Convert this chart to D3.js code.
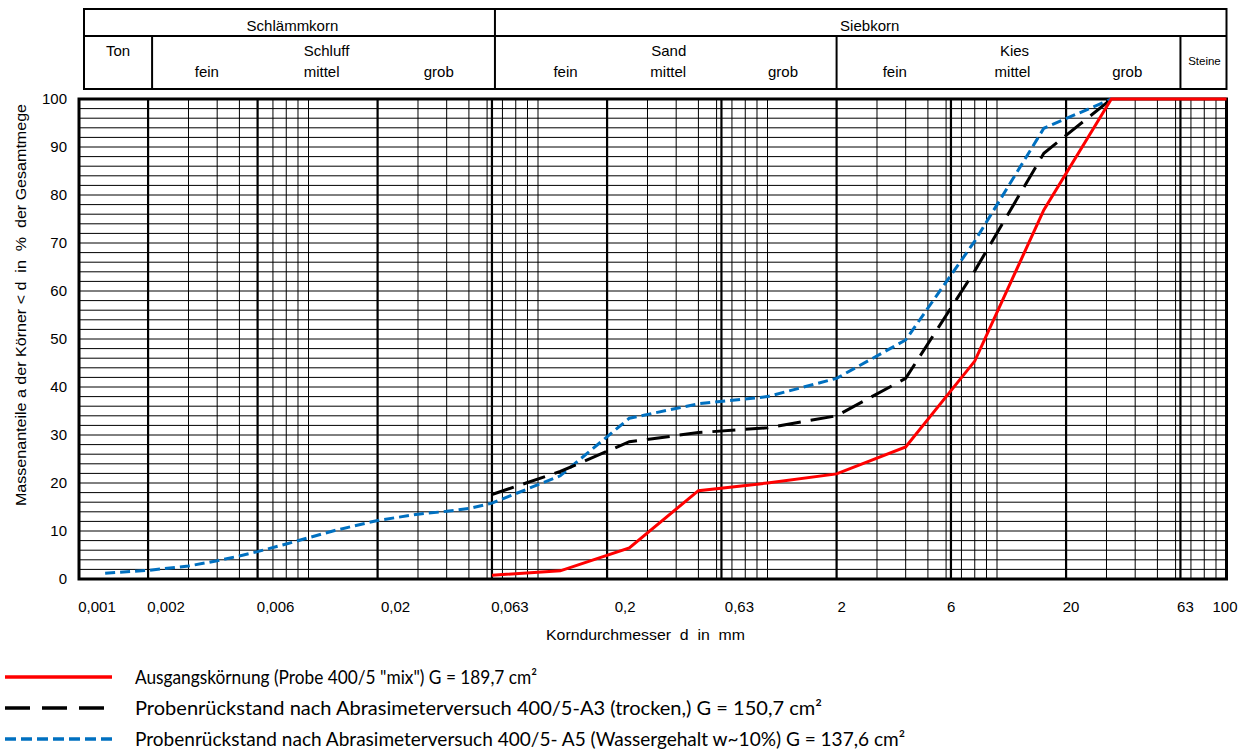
<!DOCTYPE html>
<html>
<head>
<meta charset="UTF-8">
<title>Körnungslinie</title>
<script src="https://cdn.jsdelivr.net/npm/d3@7"></script>
<style>
  body { margin: 0; background: #fff; }
  svg text { font-family: "Liberation Sans", Arial, sans-serif; fill: #000; }
  .legend text { font-family: Lato, "Open Sans", sans-serif; }
</style>
</head>
<body>
<script>
// Daten (Korndurchmesser in mm, Siebdurchgang in %)
var probeMixD   = [0.063, 0.125, 0.25, 0.5, 1, 2, 4, 8, 16, 31.5, 63, 100];
var probeMixP   = [0.8, 1.7, 6.5, 18.4, 20.0, 21.9, 27.5, 45.4, 76.9, 100, 100, 100];

var trockenD    = [0.063, 0.125, 0.25, 0.5, 1, 2, 4, 8, 16, 31.5];
var trockenP    = [17.6, 22.4, 28.6, 30.5, 31.5, 34.0, 41.8, 64.2, 88.7, 100];

var nassD       = [0.0013, 0.002, 0.003, 0.004, 0.005, 0.006, 0.008, 0.01, 0.013, 0.02, 0.03, 0.04, 0.05, 0.063,
                   0.125, 0.25, 0.5, 1, 2, 4, 8, 16, 31.5];
var nassP       = [1.2, 1.8, 2.7, 3.8, 4.8, 5.7, 7.3, 8.6, 10.1, 12.2, 13.5, 14.1, 14.7, 15.8,
                   21.5, 33.5, 36.5, 38.0, 41.8, 49.8, 70.4, 93.9, 100];

var xTicks      = [0.001, 0.002, 0.006, 0.02, 0.063, 0.2, 0.63, 2, 6, 20, 63, 100];
var yTicks      = [0, 10, 20, 30, 40, 50, 60, 70, 80, 90, 100];
var grenzen     = [0.002, 0.006, 0.02, 0.063, 0.2, 0.63, 2, 6.3, 20, 63];

var legendTexte = [
  'Ausgangskörnung (Probe 400/5 "mix") G = 189,7 cm²',
  'Probenrückstand nach Abrasimeterversuch 400/5-A3 (trocken,) G = 150,7 cm²',
  'Probenrückstand nach Abrasimeterversuch 400/5- A5 (Wassergehalt w~10%) G = 137,6 cm²'
];

var W = 1254, H = 751;
var svg = d3.select('body').append('svg').attr('width', W).attr('height', H);

var x = d3.scaleLog().domain([0.001, 100]).range([79, 1226.5]);
var y = d3.scaleLinear().domain([0, 100]).range([579, 99]);

// Raster
var grid = svg.append('g');
var minor = [];
for (var e = -3; e <= 1; e++) {
  for (var m = 1; m <= 9; m++) {
    var v = m * Math.pow(10, e);
    if (v > 0.0011 && v < 99) minor.push(v);
  }
}
grid.selectAll('line.vmin').data(minor).enter().append('line')
  .attr('x1', function(d){ return x(d); }).attr('x2', function(d){ return x(d); })
  .attr('y1', y(0)).attr('y2', y(100))
  .attr('stroke', '#000').attr('stroke-width', 1);

var hLines = d3.range(2, 100, 2);
grid.selectAll('line.h').data(hLines).enter().append('line')
  .attr('x1', x(0.001)).attr('x2', x(100))
  .attr('y1', function(d){ return y(d); }).attr('y2', function(d){ return y(d); })
  .attr('stroke', '#000').attr('stroke-width', 1);

grid.selectAll('line.vmaj').data(grenzen).enter().append('line')
  .attr('x1', function(d){ return x(d); }).attr('x2', function(d){ return x(d); })
  .attr('y1', y(0)).attr('y2', y(100))
  .attr('stroke', '#000').attr('stroke-width', 2.2);

svg.append('rect')
  .attr('x', x(0.001)).attr('y', y(100))
  .attr('width', x(100) - x(0.001)).attr('height', y(0) - y(100))
  .attr('fill', 'none').attr('stroke', '#000').attr('stroke-width', 3);

// Kopfzeile
var head = svg.append('g');
var hx0 = x(0.001) + 5, hx1 = x(100);
var hy0 = 9, hyM = 36, hy1 = 89;
var bTon = x(0.002) + 4, bSchl = x(0.063) + 3, bSand = x(2), bSt = x(63);
head.append('rect').attr('x', hx0).attr('y', hy0).attr('width', hx1 - hx0).attr('height', hy1 - hy0)
  .attr('fill', 'none').attr('stroke', '#000').attr('stroke-width', 2);
head.append('line').attr('x1', hx0).attr('x2', hx1).attr('y1', hyM).attr('y2', hyM)
  .attr('stroke', '#000').attr('stroke-width', 2);
head.append('line').attr('x1', bSchl).attr('x2', bSchl).attr('y1', hy0).attr('y2', hy1)
  .attr('stroke', '#000').attr('stroke-width', 2);
[bTon, bSand, bSt].forEach(function(b){
  head.append('line').attr('x1', b).attr('x2', b).attr('y1', hyM).attr('y2', hy1).attr('stroke', '#000').attr('stroke-width', 2);
});
function gm(a, b) { return x(Math.sqrt(a * b)) + 4; }
var headTexte = [
  ['Schlämmkorn', (hx0 + bSchl) / 2 + 3, 26, 15],
  ['Siebkorn', (bSchl + hx1) / 2 + 9, 26, 15],
  ['Ton', (hx0 + bTon) / 2, 51, 15],
  ['Schluff', (bTon + bSchl) / 2 + 3, 51, 15],
  ['fein', gm(0.002, 0.006), 72, 15],
  ['mittel', gm(0.006, 0.02), 72, 15],
  ['grob', gm(0.02, 0.063), 72, 15],
  ['Sand', (bSchl + bSand) / 2 + 3, 51, 15],
  ['fein', gm(0.063, 0.2) + 12, 72, 15],
  ['mittel', gm(0.2, 0.63), 72, 15],
  ['grob', gm(0.63, 2), 72, 15],
  ['Kies', (bSand + bSt) / 2 + 6, 51, 15],
  ['fein', gm(2, 6.3) - 3, 72, 15],
  ['mittel', gm(6.3, 20), 72, 15],
  ['grob', gm(20, 63), 72, 15],
  ['Steine', (bSt + hx1) / 2 + 1, 61, 11.5]
];
head.selectAll('text').data(headTexte).enter().append('text')
  .attr('x', function(d){ return d[1]; }).attr('y', function(d){ return d[2]; })
  .attr('dy', '0.35em').attr('text-anchor', 'middle')
  .style('font-size', function(d){ return d[3] + 'px'; })
  .text(function(d){ return d[0]; });

// Achsenbeschriftung
svg.selectAll('text.yt').data(yTicks).enter().append('text')
  .attr('x', 67).attr('y', function(d){ return y(d); }).attr('dy', '0.35em')
  .attr('text-anchor', 'end').style('font-size', '15px')
  .text(function(d){ return d; });

svg.selectAll('text.xt').data(xTicks).enter().append('text')
  .attr('x', function(d){ return d >= 100 ? x(d) + 11 : x(d) + (d < 1 ? 18 : 5); })
  .attr('y', 607).attr('dy', '0.35em')
  .attr('text-anchor', function(d){ return d >= 100 ? 'end' : 'middle'; })
  .style('font-size', '15px')
  .text(function(d){ return String(d).replace('.', ','); });

svg.append('text')
  .attr('x', 546).attr('y', 635).attr('dy', '0.35em')
  .style('font-size', '14px').style('white-space', 'pre')
  .attr('textLength', 199).attr('lengthAdjust', 'spacingAndGlyphs')
  .text('Korndurchmesser  d  in  mm');

svg.append('text')
  .attr('transform', 'translate(21,305) rotate(-90)')
  .attr('dy', '0.35em').attr('text-anchor', 'middle')
  .style('font-size', '14.5px').style('white-space', 'pre')
  .attr('textLength', 402).attr('lengthAdjust', 'spacingAndGlyphs')
  .text('Massenanteile a der Körner < d  in  %  der Gesamtmege');

// Kurven
var line = d3.line()
  .x(function(d){ return x(d[0]); })
  .y(function(d){ return y(d[1]); });

var serien = [
  { d: nassD, p: nassP, color: '#0070C0', dash: '10,5' },
  { d: trockenD, p: trockenP, color: '#000', dash: '23,10' },
  { d: probeMixD, p: probeMixP, color: '#ff0000', dash: null }
];
serien.forEach(function(s){
  svg.append('path')
    .datum(d3.zip(s.d, s.p))
    .attr('d', line)
    .attr('fill', 'none')
    .attr('stroke', s.color)
    .attr('stroke-width', 3)
    .attr('stroke-dasharray', s.dash);
});

// Legende
var leg = svg.append('g').attr('class', 'legend');
var legStil = [
  { color: '#ff0000', dash: null },
  { color: '#000', dash: '25,12' },
  { color: '#0070C0', dash: '11,5' }
];
var legBreite = [402, 687, 770];
legendTexte.forEach(function(t, i){
  var ly = 677 + i * 31;
  leg.append('line').attr('x1', 5).attr('x2', 112).attr('y1', ly).attr('y2', ly)
    .attr('stroke', legStil[i].color).attr('stroke-width', 3.5)
    .attr('stroke-dasharray', legStil[i].dash);
  leg.append('text').attr('x', 135).attr('y', ly + 7)
    .style('font-size', '19px')
    .attr('textLength', legBreite[i]).attr('lengthAdjust', 'spacingAndGlyphs')
    .text(t);
});
</script>
</body>
</html>
